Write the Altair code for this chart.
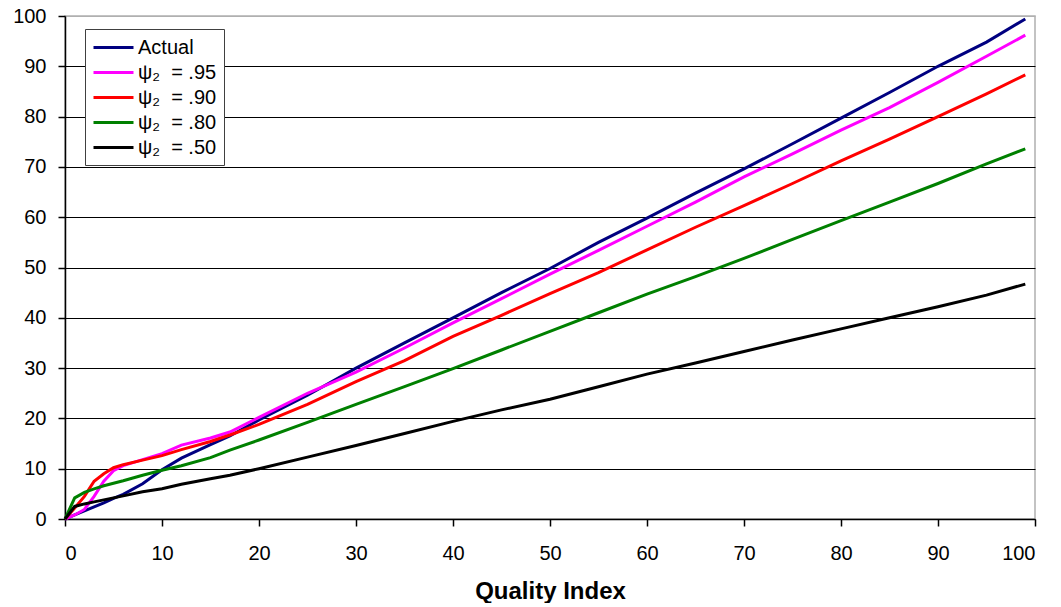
import altair as alt
import pandas as pd

x_vals = [0, 1, 2, 3, 4, 5, 6, 8, 10, 12, 15, 17, 20, 25, 30, 35, 40, 45, 50, 55, 60, 65, 70, 75, 80, 85, 90, 95, 99]

actual = [0, 0.8, 1.6, 2.4, 3.2, 4.1, 4.9, 7.0, 9.8, 12.1, 14.8, 16.5, 19.7, 24.6, 30.0, 35.0, 40.0, 45.0, 49.8, 55.0, 59.8, 64.8, 69.6, 74.6, 79.7, 84.8, 90.0, 94.8, 99.4]
psi95 = [0, 0.8, 1.9, 4.5, 7.5, 9.6, 10.6, 11.8, 13.0, 14.7, 16.1, 17.3, 20.2, 25.0, 29.2, 34.0, 39.0, 43.8, 48.7, 53.4, 58.2, 63.0, 68.0, 72.6, 77.3, 81.8, 86.8, 92.0, 96.2]
psi90 = [0, 2.2, 4.5, 7.5, 9.0, 10.2, 10.8, 11.7, 12.6, 13.8, 15.4, 16.7, 18.8, 22.8, 27.3, 31.5, 36.3, 40.5, 44.8, 49.0, 53.5, 58.0, 62.3, 66.7, 71.2, 75.5, 80.0, 84.5, 88.3]
psi80 = [0, 4.2, 5.3, 6.0, 6.6, 7.1, 7.6, 8.7, 9.7, 10.6, 12.2, 13.7, 15.7, 19.2, 22.8, 26.3, 29.9, 33.6, 37.3, 41.0, 44.7, 48.2, 51.8, 55.6, 59.3, 63.0, 66.7, 70.6, 73.6]
psi50 = [0, 2.5, 3.0, 3.4, 3.8, 4.2, 4.6, 5.4, 6.0, 6.9, 8.0, 8.7, 10.0, 12.3, 14.6, 17.0, 19.4, 21.7, 23.8, 26.3, 28.8, 31.0, 33.3, 35.6, 37.8, 40.0, 42.2, 44.5, 46.7]

series_names = ["Actual", "ψ₂\u00a0\u00a0=\u00a0.95", "ψ₂\u00a0\u00a0=\u00a0.90", "ψ₂\u00a0\u00a0=\u00a0.80", "ψ₂\u00a0\u00a0=\u00a0.50"]
series_colors = ["#000080", "#ff00ff", "#ff0000", "#008000", "#000000"]
series_values = [actual, psi95, psi90, psi80, psi50]

rows = []
for name, vals in zip(series_names, series_values):
    for i, (xv, yv) in enumerate(zip(x_vals, vals)):
        rows.append({"series": name, "x": xv, "y": yv, "order": i})
df = pd.DataFrame(rows)

ticks = list(range(0, 101, 10))

chart = alt.Chart(df).mark_line(strokeWidth=3).encode(
    x=alt.X("x:Q", scale=alt.Scale(domain=[0, 100], nice=False),
            axis=alt.Axis(values=ticks, title="Quality Index", grid=False,
                          tickSize=7, labelPadding=17, titlePadding=16,
                          titleFontSize=24, titleFontWeight="bold")),
    y=alt.Y("y:Q", scale=alt.Scale(domain=[0, 100], nice=False),
            axis=alt.Axis(values=ticks, title=None, grid=True,
                          gridColor={"condition": {"test": "datum.value === 100", "value": "#b0b0b0"}, "value": "#000000"},
                          tickSize=7, labelPadding=12)),
    color=alt.Color("series:N",
                    scale=alt.Scale(domain=series_names, range=series_colors),
                    legend=alt.Legend(title=None, orient="none", legendX=20, legendY=13,
                                      symbolType="M-1,0H3", symbolSize=400, symbolOffset=0,
                                      symbolStrokeWidth=3,
                                      labelFontSize=20, labelOffset=23, rowPadding=3,
                                      padding=7, strokeColor="#404040", fillColor="white")),
    order="order:Q",
).properties(
    width=970, height=503,
    padding={"left": 57, "top": 8, "right": 10, "bottom": 84},
    autosize=alt.AutoSizeParams(type="none"),
).configure(
    font="Liberation Sans",
).configure_view(
    stroke="#b0b0b0", strokeWidth=1.5,
).configure_axis(
    domainColor="#000000", domainWidth=1.5, tickColor="#000000", tickWidth=1.5,
    labelFontSize=20, labelColor="#000000", titleColor="#000000",
    gridWidth=1.2,
)

chart.save("out.html", embed_options={"renderer": "svg", "actions": False})
